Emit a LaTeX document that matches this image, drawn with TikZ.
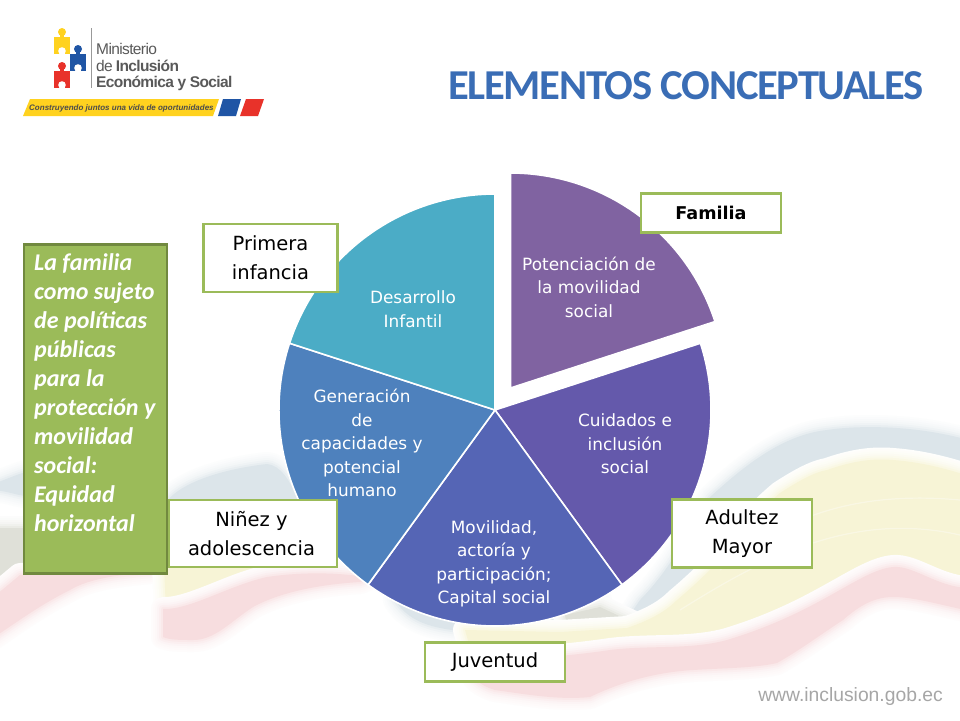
\documentclass[tikz,border=0pt]{standalone}
\usepackage{fontspec}
\setmainfont{DejaVu Sans}
\newfontfamily\carl{Carlito}
\newfontfamily\lib{Liberation Sans}
\usetikzlibrary{calc}
\definecolor{cA}{HTML}{8063A1}
\definecolor{cB}{HTML}{6459AB}
\definecolor{cC}{HTML}{5565B5}
\definecolor{cD}{HTML}{4E81BD}
\definecolor{cE}{HTML}{4BACC6}
\definecolor{boxg}{HTML}{9BBB59}
\definecolor{boxd}{HTML}{71893F}
\definecolor{ttl}{HTML}{3A6DB5}
\definecolor{lgy}{HTML}{FFD21F}
\definecolor{lgb}{HTML}{1F55A5}
\definecolor{lgr}{HTML}{E8322A}
\definecolor{bgy}{HTML}{F7F4D6}
\definecolor{bgr}{HTML}{F7DDDF}
\definecolor{bgb}{HTML}{DCE5EA}
\definecolor{bgg}{HTML}{DFE0D8}
\tikzset{
 x=1pt,y=-1pt,
 slice/.style={draw=white,line width=1.6pt,line join=miter},
 stxt/.style={text=white,align=center,font=\fontsize{16.9}{23.5}\selectfont,inner sep=0pt},
 lbl/.style={draw=boxg,line width=2.6pt,fill=white,align=center,inner sep=0pt,font=\fontsize{19.5}{29}\selectfont,text=black},
 logot/.style={inner sep=0pt,anchor=west,text=black!65}
}
\newcommand{\puzzle}[3]{% x y colour
 \fill[#3] (#1,#2) rectangle ++(16,17);
 \fill[#3] (#1+8,#2-5) circle (4);
 \fill[#3] (#1+6,#2-3) rectangle ++(4,4);
 \fill[white] (#1+8,#2+14) circle (3.8);
 \fill[white] (#1+5.5,#2+14) rectangle ++(5,3.2);
}
\newcommand{\blob}[2]{% colour, closed path: opaque fill with a soft rim
 \foreach \w/\m in {24/8,20/14,16/22,12/32,8/46,4/66}{
  \draw[#1!\m,line width=\w pt,line join=round] #2;}
 \fill[#1] #2;
}
\begin{document}
\begin{tikzpicture}
\useasboundingbox (0,0) rectangle (960,720);
\fill[white] (0,0) rectangle (960,720);
% background: blue-grey
\blob{bgb}{(640,600) .. controls (670,570) and (690,530) .. (710,497) .. controls (740,470) and (780,435) .. (827,430) .. controls (860,425) and (920,425) .. (975,442) -- (975,500) -- (780,520) -- (680,610) -- (625,622) -- cycle}
\blob{bgb}{(395,600) .. controls (410,625) and (440,630) .. (475,632) -- (600,625) -- (600,600) -- cycle}
\blob{bgb}{(-10,485) .. controls (5,480) and (15,475) .. (26,472) -- (26,496) .. controls (15,495) and (5,490) .. (-10,490) -- cycle}
\blob{bgb}{(168,500) .. controls (180,485) and (215,470) .. (267,464) .. controls (280,465) and (290,480) .. (298,500) -- cycle}
% grey
\blob{bgg}{(-10,528) -- (30,528) -- (30,575) -- (-10,600) -- cycle}
\blob{bgg}{(565,615) -- (600,607) -- (632,622) -- (570,642) -- cycle}
% red left
\blob{bgr}{(-10,600) -- (20,575) -- (150,572) .. controls (120,575) and (90,578) .. (70,590) .. controls (40,605) and (20,620) .. (-10,640) -- cycle}
% yellow left
\blob{bgy}{(164,566) -- (262,566) .. controls (240,590) and (230,600) .. (217,608) -- (166,610) -- cycle}
% red centre-left
\blob{bgr}{(163,609) .. controls (190,610) and (230,585) .. (267,577) .. controls (300,572) and (340,572) .. (370,578) -- (360,582) .. controls (310,585) and (275,595) .. (253,607) .. controls (230,622) and (215,640) .. (193,640) .. controls (180,640) and (170,640) .. (163,637) -- cycle}
% yellow right
\blob{bgy}{(780,493) .. controls (800,480) and (815,472) .. (827,470) .. controls (850,462) and (870,458) .. (893,460) .. controls (920,462) and (945,468) .. (975,478) -- (975,595) -- (893,575) -- (727,650) -- (600,680) -- (475,665) -- (465,630) -- (560,632) -- (627,628) .. controls (650,620) and (665,612) .. (677,600) .. controls (695,585) and (710,570) .. (720,560) .. controls (735,535) and (760,510) .. (780,493) -- cycle}
% red right
\blob{bgr}{(975,588) .. controls (940,590) and (915,565) .. (893,567) .. controls (860,570) and (820,612) .. (727,640) .. controls (690,650) and (650,645) .. (610,650) .. controls (570,656) and (520,660) .. (468,660) .. controls (468,675) and (478,685) .. (495,690) .. controls (530,695) and (560,700) .. (590,697) .. controls (625,680) and (660,672) .. (693,670) .. controls (725,668) and (755,668) .. (777,663) .. controls (800,650) and (820,635) .. (843,620) .. controls (860,605) and (875,597) .. (893,597) .. controls (915,597) and (940,605) .. (975,612) -- cycle}
% streaks
\draw[white,opacity=.35,line width=1.2pt] (720,570) .. controls (780,520) and (850,490) .. (960,500);
\draw[white,opacity=.35,line width=1.2pt] (680,610) .. controls (760,560) and (850,510) .. (960,535);
% pie
\coordinate (c) at (495,410);
\coordinate (cx) at (510.5,388);
\path[fill=cA,slice] (cx) -- ($(cx)+(0,-215)$) arc[start angle=-90,end angle=-18,radius=215] -- cycle;
\path[fill=cB,slice] (c) -- ($(c)+(216*.951,-216*.309)$) arc[start angle=-18,end angle=54,radius=216] -- cycle;
\path[fill=cC,slice] (c) -- ($(c)+(216*.588,216*.809)$) arc[start angle=54,end angle=126,radius=216] -- cycle;
\path[fill=cD,slice] (c) -- ($(c)+(-216*.588,216*.809)$) arc[start angle=126,end angle=198,radius=216] -- cycle;
\path[fill=cE,slice] (c) -- ($(c)+(-216*.951,-216*.309)$) arc[start angle=198,end angle=270,radius=216] -- cycle;
% slice text
\node[stxt] (s1) at (589,287) {Potenciación de\\la movilidad\\social};
\node[stxt] (s2) at (625,444) {Cuidados e\\inclusión\\social};
\node[stxt] (s3) at (494,564) {Movilidad,\\actoría y\\participación;\\Capital social};
\node[stxt] (s4) at (362,443) {Generación\\de\\capacidades y\\potencial\\humano};
\node[stxt] (s5) at (413,309) {Desarrollo\\Infantil};
% label boxes
\node[lbl,minimum width=140pt,minimum height=39pt,font=\fontsize{17.6}{29}\selectfont\bfseries] (f) at (711,213) {Familia};
\node[lbl,minimum width=134pt,minimum height=68pt] (p) at (270.5,258) {Primera\\infancia};
\node[lbl,minimum width=168pt,minimum height=67pt] (n) at (253,533.5) {\hspace*{-3pt}Niñez y\\\hspace*{-3pt}adolescencia};
\node[lbl,minimum width=140pt,minimum height=68pt] (a) at (742,533.5) {Adultez\\Mayor};
\node[lbl,minimum width=140pt,minimum height=39pt] (j) at (495,662) {Juventud};
% left green box
\fill[boxg,draw=boxd,line width=2.4pt] (24,244.5) rectangle (167,573.5);
\node[inner sep=0pt,anchor=north west,align=left,text=white,font=\carl\bfseries\itshape\fontsize{24}{29}\selectfont] (g) at (34,253) {La familia\\como sujeto\\de políticas\\públicas\\para la\\protección y\\movilidad\\social:\\Equidad\\horizontal};
% title
\node[inner sep=0pt,anchor=east,text=ttl,font=\carl\bfseries\fontsize{42.6}{44}\selectfont] (t) at (924,86) {\addfontfeature{LetterSpace=-3}ELEMENTOS CONCEPTUALES};
% url
\node[inner sep=0pt,anchor=east,text=black!35,font=\lib\fontsize{19.3}{20}\selectfont] (u) at (943,696) {www.inclusion.gob.ec};
% logo
\puzzle{54}{37}{lgy}
\puzzle{70}{54}{lgb}
\puzzle{54}{71}{lgr}
\draw[black!40,line width=.5pt] (91,28) -- (91,88);
\node[logot,font=\lib\fontsize{15.5}{16}\selectfont] (l1) at (96,49) {\addfontfeature{LetterSpace=-4}Ministerio};
\node[logot,font=\lib\fontsize{15.5}{16}\selectfont] (l2) at (96,66) {\addfontfeature{LetterSpace=-4}de \textbf{Inclusión}};
\node[logot,font=\lib\bfseries\fontsize{15.5}{16}\selectfont] (l3) at (96,83) {\addfontfeature{LetterSpace=-4}Económica y Social};
\fill[lgy] (30,99) -- (219,99) -- (213,116) -- (23,116) -- cycle;
\node[inner sep=0pt,anchor=west,text=black!70,font=\lib\bfseries\itshape\fontsize{8}{10}\selectfont] (l4) at (29,108) {Construyendo juntos una vida de oportunidades};
\fill[lgb] (223,99) -- (241,99) -- (236,116) -- (218,116) -- cycle;
\fill[lgr] (246,99) -- (264,99) -- (258,116) -- (240,116) -- cycle;
\end{tikzpicture}
\end{document}
